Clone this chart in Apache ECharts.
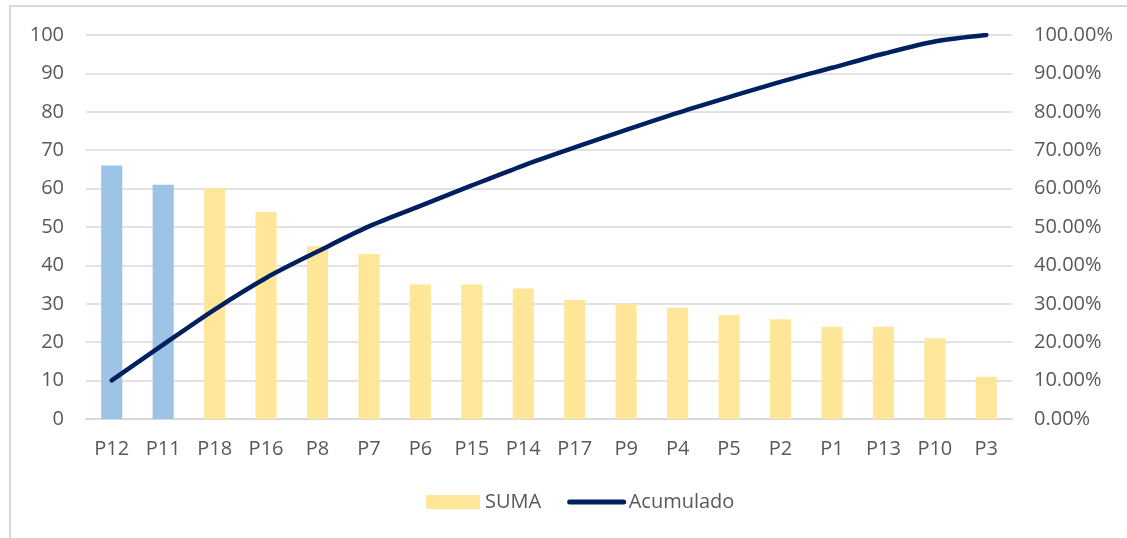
<!DOCTYPE html>
<html>
<head>
<meta charset="utf-8">
<script src="https://cdn.jsdelivr.net/npm/echarts@6/dist/echarts.min.js"></script>
<style>
  html, body { margin: 0; padding: 0; background: #fff; overflow: hidden; }
  #frame { position: absolute; left: 9px; top: 5px; width: 1140px; height: 560px; border: 2px solid #d9d9d9; box-sizing: border-box; }
  #paretoChart { position: absolute; left: 0; top: 0; width: 1127px; height: 538px; }
</style>
</head>
<body>
<div id="frame"></div>
<div id="paretoChart"></div>
<script>
const categories = ['P12', 'P11', 'P18', 'P16', 'P8', 'P7', 'P6', 'P15', 'P14', 'P17', 'P9', 'P4', 'P5', 'P2', 'P1', 'P13', 'P10', 'P3']
const suma = [66, 61, 60, 54, 45, 43, 35, 35, 34, 31, 30, 29, 27, 26, 24, 24, 21, 11]
const acumulado = [10.06, 19.36, 28.51, 36.74, 43.60, 50.15, 55.49, 60.82, 66.01, 70.73, 75.30, 79.73, 83.84, 87.80, 91.46, 95.12, 98.32, 100]
const highlighted = 2 // first bars drawn in blue

const labelStyle = { color: '#595959', fontSize: 20, fontFamily: '"Open Sans", sans-serif' }

const chart = echarts.init(document.getElementById('paretoChart'))
chart.setOption({
  animation: false,
  legend: {
    bottom: 21,
    left: 421,
    itemGap: 26,
    textStyle: labelStyle,
    data: [
      { name: 'SUMA', icon: 'rect', itemStyle: { color: '#FFE699' } },
      { name: 'Acumulado', itemStyle: { opacity: 0 }, lineStyle: { color: '#002060', width: 5, cap: 'round' } }
    ],
    itemWidth: 54,
    itemHeight: 14
  },
  grid: { left: 86, right: 115, top: 35, bottom: 119 },
  xAxis: {
    type: 'category',
    data: categories,
    axisTick: { show: false },
    axisLine: { lineStyle: { color: '#d9d9d9', width: 2 } },
    axisLabel: Object.assign({ margin: 20 }, labelStyle)
  },
  yAxis: [
    {
      type: 'value',
      min: 0,
      max: 100,
      interval: 10,
      axisLabel: Object.assign({ margin: 22 }, labelStyle),
      splitLine: { lineStyle: { color: '#d9d9d9', width: 1.5 } }
    },
    {
      type: 'value',
      min: 0,
      max: 100,
      interval: 10,
      axisLabel: Object.assign({ margin: 22, formatter: v => v.toFixed(2) + '%' }, labelStyle),
      splitLine: { show: false }
    }
  ],
  series: [
    {
      name: 'SUMA',
      type: 'bar',
      barWidth: '41%',
      data: suma.map((v, i) => ({
        value: v,
        itemStyle: { color: i < highlighted ? '#9DC3E6' : '#FFE699' }
      }))
    },
    {
      name: 'Acumulado',
      type: 'line',
      yAxisIndex: 1,
      smooth: 0.3,
      symbol: 'none',
      lineStyle: { color: '#002060', width: 4.5, cap: 'round' },
      itemStyle: { color: '#002060' },
      data: acumulado
    }
  ]
})
</script>
</body>
</html>
